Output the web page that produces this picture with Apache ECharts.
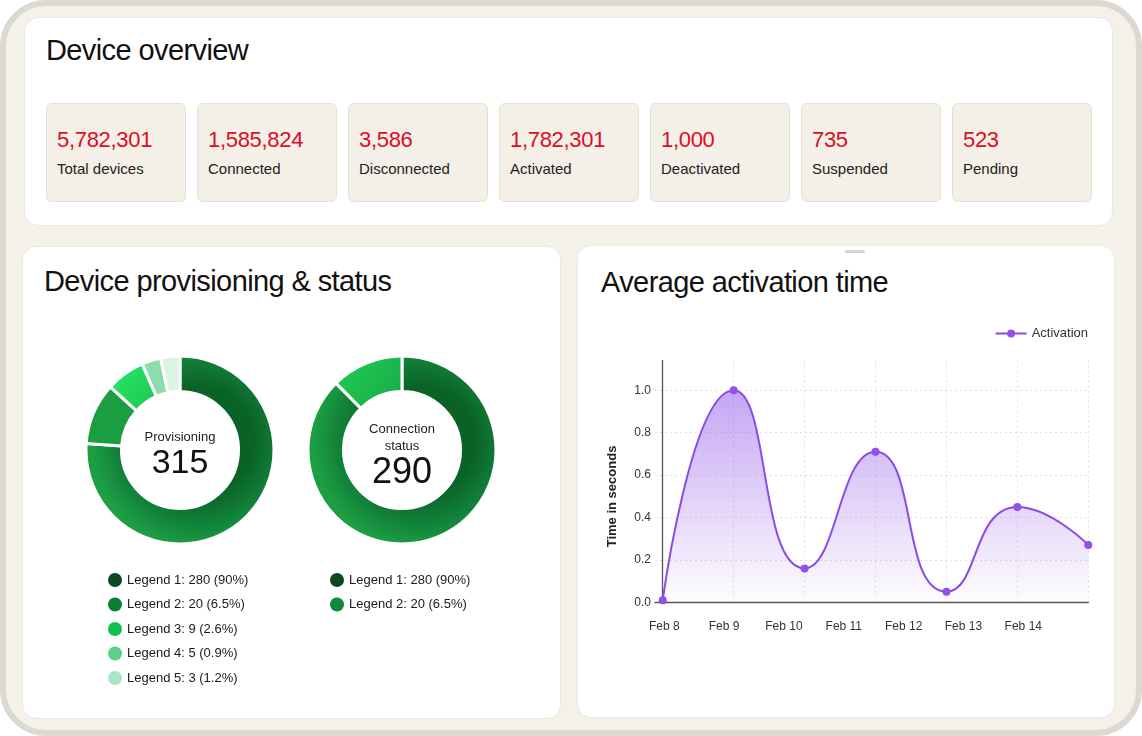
<!DOCTYPE html>
<html>
<head>
<meta charset="utf-8">
<script src="https://cdn.jsdelivr.net/npm/echarts@6/dist/echarts.min.js"></script>
<style>
  html, body { margin: 0; padding: 0; background: #fff; }
  body { width: 1142px; height: 736px; position: relative; overflow: hidden; font-family: "Liberation Sans", Arial, sans-serif; color: #111; }
  #frame { position: absolute; left: 0; top: 0; width: 1142px; height: 736px; box-sizing: border-box;
    border: 6px solid #dcd9d0; border-radius: 46px; background: #f4f1e9; }
  .card { position: absolute; background: #fff; border: 1px solid #ece8de; border-radius: 14px; box-sizing: border-box; }
  .title { position: absolute; font-size: 29px; line-height: 29px; letter-spacing: -0.6px; color: #111; white-space: nowrap; }
  .tile { position: absolute; top: 103px; width: 140px; height: 99px; box-sizing: border-box;
    background: #f4f0e7; border: 1px solid #e6e1d5; border-radius: 6px; }
  .tile .num { position: absolute; left: 10px; top: 25px; font-size: 22px; line-height: 22px; color: #dc0d26; letter-spacing: -0.3px; white-space: nowrap; }
  .tile .lbl { position: absolute; left: 10px; top: 57px; font-size: 15px; line-height: 15px; color: #222; white-space: nowrap; }
  #handle { position: absolute; left: 845px; top: 250px; width: 20px; height: 3px; background: #d6d6d6; border-radius: 2px; }
  #donuts { position: absolute; left: 22px; top: 246px; width: 539px; height: 473px; }
  #line { position: absolute; left: 577px; top: 245px; width: 538px; height: 473px; }
</style>
</head>
<body>
<div id="frame"></div>
<div class="card" style="left:24px;top:17px;width:1089px;height:209px;"></div>
<div class="title" style="left:46px;top:36px;">Device overview</div>
<div id="tiles"></div>

<div class="card" style="left:22px;top:246px;width:539px;height:473px;"></div>
<div class="card" style="left:577px;top:245px;width:538px;height:473px;"></div>
<div id="handle"></div>
<div class="title" style="left:44px;top:267px;">Device provisioning &amp; status</div>
<div class="title" style="left:601px;top:268px;">Average activation time</div>
<div id="donuts"></div>
<div id="line"></div>

<script>
// KPI tiles
var kpiValues = [5782301, 1585824, 3586, 1782301, 1000, 735, 523];
var kpiLabels = ['Total devices', 'Connected', 'Disconnected', 'Activated', 'Deactivated', 'Suspended', 'Pending'];

// provisioning donut
var provNames = ['Legend 1', 'Legend 2', 'Legend 3', 'Legend 4', 'Legend 5'];
var provCounts = [280, 20, 9, 5, 3];
var provPct = ['90%', '6.5%', '2.6%', '0.9%', '1.2%'];
var provArc = [76.1, 10.6, 6.7, 3.3, 3.3];   // share of the ring as drawn
var provTotal = 315;

// connection status donut
var connNames = ['Legend 1', 'Legend 2'];
var connCounts = [280, 20];
var connPct = ['90%', '6.5%'];
var connArc = [87.6, 12.4];
var connTotal = 290;

// activation line
var dayLabels = ['Feb 8', 'Feb 9', 'Feb 10', 'Feb 11', 'Feb 12', 'Feb 13', 'Feb 14'];
var activation = [0.01, 1.0, 0.16, 0.71, 0.05, 0.45, 0.27];

$tiles();
function $tiles() {
  var box = document.getElementById('tiles');
  kpiValues.forEach(function (v, i) {
    var t = document.createElement('div');
    t.className = 'tile';
    t.style.left = (46 + i * 151) + 'px';
    t.innerHTML = '<div class="num">' + v.toLocaleString('en-US') + '</div><div class="lbl">' + kpiLabels[i] + '</div>';
    box.appendChild(t);
  });
}

var FONT = '"Liberation Sans", Arial, sans-serif';

function bigRing() {
  return new echarts.graphic.RadialGradient(0.6, 0.45, 0.56, [
    { offset: 0.5, color: '#0a6226' },
    { offset: 0.78, color: '#12823a' },
    { offset: 1, color: '#1c9e43' }
  ]);
}

echart_donuts();
echart_line();

function echart_donuts() {
  var myChart = echarts.init(document.getElementById('donuts'));
  var provSlice = [bigRing(), '#1b9e41',
    new echarts.graphic.LinearGradient(0, 0, 1, 1, [{ offset: 0, color: '#2aea68' }, { offset: 1, color: '#1cc553' }]),
    '#8ddcab', '#d9f5e2'];
  var provDot = ['#0b4a20', '#0f7d36', '#12bf4c', '#5ccf8b', '#a9e5c4'];
  var connSlice = [bigRing(),
    new echarts.graphic.LinearGradient(0, 0, 1, 1, [{ offset: 0, color: '#22cf55' }, { offset: 1, color: '#17a845' }])];
  var connDot = ['#0b4a20', '#108a3a'];

  var ringStyle = {
    type: 'pie', radius: [58.5, 94], startAngle: 90, silent: true,
    label: { show: false }, labelLine: { show: false },
    itemStyle: { borderColor: '#fff', borderWidth: 3 }
  };

  function legendFor(names, counts, pct, dots, left) {
    return {
      data: names.map(function (n, i) { return { name: n, itemStyle: { color: dots[i], borderWidth: 0 } }; }),
      orient: 'vertical', left: left, top: 327, padding: 0, icon: 'circle',
      itemWidth: 14, itemHeight: 14, itemGap: 10.5, selectedMode: false,
      itemStyle: { borderWidth: 0 },
      textStyle: { fontSize: 13, color: '#1a1a1a', fontFamily: FONT },
      formatter: function (n) {
        var i = names.indexOf(n);
        return n + ': ' + counts[i] + ' (' + pct[i] + ')';
      }
    };
  }

  var option = {
    animation: false,
    textStyle: { fontFamily: FONT },
    legend: [
      legendFor(provNames, provCounts, provPct, provDot, 86),
      legendFor(connNames, connCounts, connPct, connDot, 308)
    ],
    graphic: [
      { type: 'text', x: 158, y: 191, style: { text: 'Provisioning', fontSize: 13, fontFamily: FONT, fill: '#222', align: 'center', verticalAlign: 'middle' } },
      { type: 'text', x: 158, y: 218, style: { text: String(provTotal), fontSize: 34, fontFamily: FONT, fill: '#111', align: 'center', verticalAlign: 'middle' } },
      { type: 'text', x: 380, y: 183, style: { text: 'Connection', fontSize: 13, fontFamily: FONT, fill: '#222', align: 'center', verticalAlign: 'middle' } },
      { type: 'text', x: 380, y: 200, style: { text: 'status', fontSize: 13, fontFamily: FONT, fill: '#222', align: 'center', verticalAlign: 'middle' } },
      { type: 'text', x: 380, y: 227, style: { text: String(connTotal), fontSize: 36, fontFamily: FONT, fill: '#111', align: 'center', verticalAlign: 'middle' } }
    ],
    series: [
      Object.assign({}, ringStyle, {
        name: 'Provisioning', center: [158, 204],
        data: provNames.map(function (n, i) { return { name: n, value: provArc[i], itemStyle: { color: provSlice[i] } }; })
      }),
      Object.assign({}, ringStyle, {
        name: 'Connection status', center: [380, 204],
        data: connNames.map(function (n, i) { return { name: n, value: connArc[i], itemStyle: { color: connSlice[i] } }; })
      })
    ]
  };
  option && myChart.setOption(option);
}

function echart_line() {
  var myChart = echarts.init(document.getElementById('line'));
  var grid = { top: 115.6, height: 241.7 };
  var dotted = { color: '#e0e0e0', type: [2, 3], width: 1 };
  var option = {
    animation: false,
    textStyle: { fontFamily: FONT },
    legend: {
      data: ['Activation'], right: 27, top: 82, padding: 0,
      itemWidth: 31, itemHeight: 10, selectedMode: false,
      textStyle: { fontSize: 13, color: '#333', fontFamily: FONT }
    },
    grid: [
      { left: 78, top: grid.top, width: 433.3, height: grid.height },
      { left: 87.3, top: grid.top, width: 359, height: grid.height }
    ],
    xAxis: [
      {
        type: 'value', gridIndex: 0, min: -0.109, max: 6, minInterval: 1, maxInterval: 1,
        axisLine: { show: true, onZero: false, lineStyle: { color: '#555', width: 1.3 } },
        axisTick: { show: false }, axisLabel: { show: false },
        splitLine: { show: true, showMinLine: false, lineStyle: dotted }
      },
      {
        type: 'category', gridIndex: 1, data: dayLabels, boundaryGap: false,
        axisLine: { show: false }, axisTick: { show: false }, splitLine: { show: false },
        axisLabel: { interval: 0, margin: 18, fontSize: 12, color: '#333', fontFamily: FONT }
      }
    ],
    yAxis: [
      {
        type: 'value', gridIndex: 0, min: 0, max: 1.14, minInterval: 0.2, maxInterval: 0.2,
        name: 'Time in seconds', nameLocation: 'middle', nameGap: 36,
        nameTextStyle: { fontWeight: 'bold', fontSize: 13, color: '#222', fontFamily: FONT, padding: [0, 30, 0, 0] },
        axisLine: { show: true, lineStyle: { color: '#555', width: 1.3 } },
        axisTick: { show: false },
        axisLabel: { margin: 4, fontSize: 12, color: '#333', showMaxLabel: false, formatter: function (v) { return v.toFixed(1); } },
        splitLine: { show: true, showMaxLine: false, lineStyle: dotted }
      },
      { type: 'value', gridIndex: 1, show: false }
    ],
    series: [
      {
        name: 'Activation', type: 'line', xAxisIndex: 0, yAxisIndex: 0,
        smooth: 0.55, symbol: 'circle', symbolSize: 8, showSymbol: true,
        itemStyle: { color: '#9150e8' },
        lineStyle: { color: '#8a4be6', width: 2 },
        areaStyle: {
          color: new echarts.graphic.LinearGradient(0, 0, 0, 1, [
            { offset: 0, color: 'rgba(140, 78, 232, 0.72)' },
            { offset: 1, color: 'rgba(140, 78, 232, 0.02)' }
          ])
        },
        data: activation.map(function (v, i) { return [i, v]; })
      }
    ]
  };
  option && myChart.setOption(option);
}
</script>
</body>
</html>
